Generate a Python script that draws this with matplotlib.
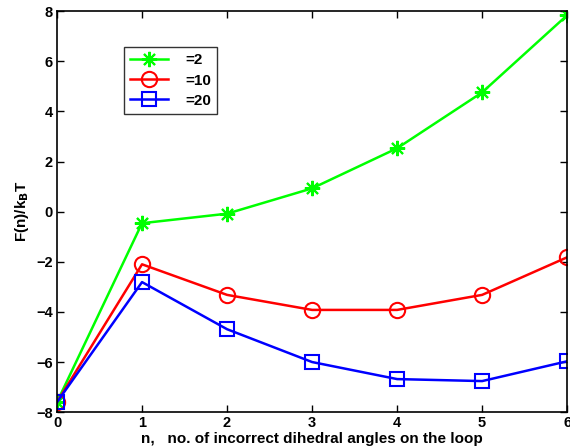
import matplotlib
matplotlib.use("Agg")
import matplotlib.pyplot as plt

plt.rcParams['font.family'] = ['Liberation Sans', 'DejaVu Sans']
plt.rcParams['font.weight'] = 'bold'

n = [0, 1, 2, 3, 4, 5, 6]
f_2 = [-7.6, -0.46, -0.08, 0.93, 2.53, 4.76, 7.84]
f_10 = [-7.6, -2.1, -3.32, -3.92, -3.92, -3.32, -1.82]
f_20 = [-7.6, -2.81, -4.69, -6.0, -6.68, -6.76, -5.97]
labels = ['=2', '=10', '=20']
xticks = [0, 1, 2, 3, 4, 5, 6]
yticks = [-8, -6, -4, -2, 0, 2, 4, 6, 8]

fig = plt.figure(figsize=(5.70, 4.48), dpi=100)
ax = fig.add_axes([0.1, 0.08, 0.895, 0.895])

ax.plot(n, f_2, color='#00ff00', lw=1.8, marker=(8, 2, 0), ms=11, mew=1.5,
        label=labels[0])
ax.plot(n, f_10, color='#ff0000', lw=1.8, marker='o', ms=11, mfc='none',
        mew=1.5, label=labels[1])
ax.plot(n, f_20, color='#0000ff', lw=1.8, marker='s', ms=9.5, mfc='none',
        mew=1.5, label=labels[2])

ax.set_xlim(0, 6)
ax.set_ylim(-8, 8)
ax.set_xticks(xticks)
ax.set_yticks(yticks)
ax.tick_params(direction='in', top=True, right=True, labelsize=10.5,
               length=5, width=1, pad=3)
for lab in ax.get_xticklabels() + ax.get_yticklabels():
    lab.set_fontweight('bold')
for s in ax.spines.values():
    s.set_linewidth(1.2)

ax.set_xlabel('n,   no. of incorrect dihedral angles on the loop',
              fontsize=11, fontweight='bold', labelpad=1)
ax.set_ylabel(r'F(n)/k$_\mathbf{B}$T', fontsize=11, fontweight='bold',
              labelpad=4)

leg = ax.legend(loc='upper left', bbox_to_anchor=(0.131, 0.91), fontsize=11,
                frameon=True, fancybox=False, edgecolor='black',
                handlelength=2.5, borderpad=0.4, labelspacing=0.4,
                handletextpad=1.1, borderaxespad=0)
leg.get_frame().set_linewidth(1.0)
for t in leg.get_texts():
    t.set_fontweight('bold')

fig.savefig('out.png', dpi=100)
